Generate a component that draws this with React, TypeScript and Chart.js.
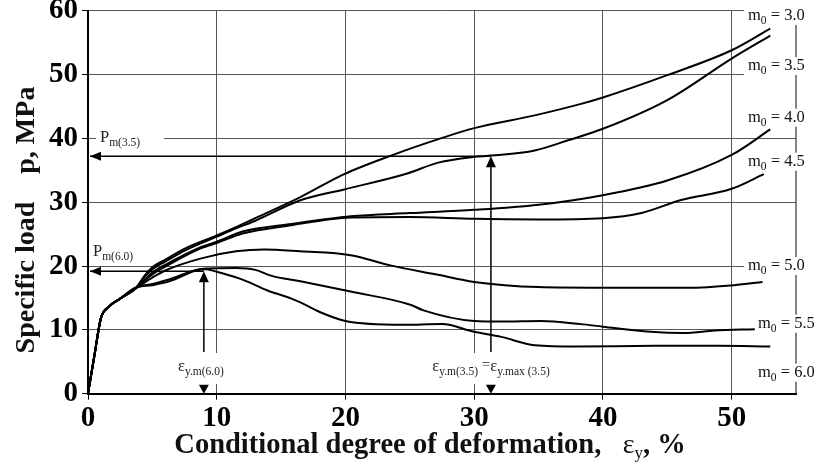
import React, { useEffect, useRef } from "react";
import { Chart, registerables } from "chart.js";
Chart.register(...registerables);

const SERIF = '"Liberation Serif", "DejaVu Serif", serif';

// Axis ranges / ticks
const X_MIN = 0;
const X_MAX = 55;
const X_STEP = 10;
const Y_MIN = 0;
const Y_MAX = 60;
const Y_STEP = 10;

// Series (conditional degree of deformation, %  ->  specific load, MPa)
const M30_X = [0, 0.5, 1, 1.6, 2.5, 3.7, 4.4, 5, 6, 7.6, 10, 11.5, 13, 16.5, 19.9, 23.8, 27.4, 30, 34.7, 38.3, 40, 45, 50, 53];
const M30_Y = [0, 6, 11.8, 13.6, 14.9, 16.5, 18.5, 19.8, 21, 22.8, 24.8, 26.1, 27.5, 30.8, 34.4, 37.5, 40, 41.6, 43.6, 45.4, 46.4, 49.9, 53.8, 57.2];

const M35_X = [0, 0.5, 1, 1.6, 2.5, 3.7, 4.4, 5, 6, 7.6, 10, 11.5, 13, 16.5, 19.9, 24.8, 27.2, 30, 31.3, 34.7, 37.3, 40, 45, 50, 53];
const M35_Y = [0, 6, 11.8, 13.6, 14.9, 16.5, 18.3, 19.5, 20.7, 22.5, 24.6, 25.9, 27.1, 30.3, 32, 34.5, 36.2, 37.1, 37.3, 38.1, 39.7, 41.5, 46, 52.5, 56.1];

const M40_X = [0, 0.5, 1, 1.6, 2.5, 3.7, 5, 6, 8.8, 10, 12, 15.8, 20.4, 25, 30, 35, 40, 45, 50, 53];
const M40_Y = [0, 6, 11.8, 13.6, 14.9, 16.5, 19, 20.2, 23, 23.8, 25.4, 26.6, 27.8, 28.3, 28.8, 29.6, 31.1, 33.4, 37.4, 41.4];

const M45_X = [0, 0.5, 1, 1.6, 2.5, 3.7, 5, 6, 8.8, 10, 12, 15.8, 20.4, 25, 30, 35, 40, 43, 46, 50, 52.5];
const M45_Y = [0, 6, 11.8, 13.6, 14.9, 16.5, 18.7, 19.9, 22.8, 23.6, 25.1, 26.4, 27.6, 27.7, 27.4, 27.3, 27.5, 28.3, 30.3, 32.1, 34.4];

const M50_X = [0, 0.5, 1, 1.6, 2.5, 3.7, 5, 6, 8.8, 11.5, 13.7, 16.5, 20.4, 23.5, 27, 30, 35, 40, 46.6, 50.2, 52.4];
const M50_Y = [0, 6, 11.8, 13.6, 14.9, 16.5, 18.2, 19.3, 21.2, 22.3, 22.6, 22.3, 21.7, 20.1, 18.7, 17.5, 16.7, 16.6, 16.6, 17, 17.5];

const M55_X = [0, 0.5, 1, 1.6, 2.5, 3.7, 5, 6.3, 8.4, 9.2, 11.5, 13, 14.2, 16.5, 20.4, 25.1, 26, 30, 32.1, 35.2, 38.3, 40, 43.7, 46.3, 48.7, 51.8];
const M55_Y = [0, 6, 11.8, 13.6, 14.9, 16.6, 17.2, 17.9, 19.4, 19.6, 19.7, 19.4, 18.5, 17.6, 16, 13.9, 13.1, 11.4, 11.3, 11.4, 10.9, 10.5, 9.7, 9.5, 9.9, 10.1];

const M60_X = [0, 0.5, 1, 1.6, 2.5, 3.7, 5, 6.3, 8.4, 9.2, 10, 12.1, 13.9, 15.8, 16.5, 18, 20, 24.4, 27.5, 30, 32.1, 34.7, 38, 44, 49, 53];
const M60_Y = [0, 6, 11.8, 13.6, 14.9, 16.6, 17, 17.6, 19.3, 19.5, 19.1, 17.8, 16.2, 14.9, 14.3, 12.8, 11.4, 10.8, 10.9, 9.7, 8.9, 7.6, 7.4, 7.5, 7.5, 7.4];

const SERIES_X = [M30_X, M35_X, M40_X, M45_X, M50_X, M55_X, M60_X];
const SERIES_Y = [M30_Y, M35_Y, M40_Y, M45_Y, M50_Y, M55_Y, M60_Y];
const SERIES_LABELS = ["3.0", "3.5", "4.0", "4.5", "5.0", "5.5", "6.0"];

// Annotation values
const PM_35 = 37.2; // P m(3.5)
const EPS_35 = 31.3; // eps y.m(3.5)
const PM_60 = 19.2; // P m(6.0)
const EPS_60 = 9.0; // eps y.m(6.0)

type Part = { t: string; s: number; w?: string; dy?: number; f?: string };

function drawParts(ctx: CanvasRenderingContext2D, parts: Part[], x: number, y: number, align: "left" | "center" | "right") {
  let total = 0;
  const widths = parts.map((p) => {
    ctx.font = `${p.w || "normal"} ${p.s}px ${p.f || SERIF}`;
    const w = ctx.measureText(p.t).width;
    total += w;
    return w;
  });
  let cx = align === "left" ? x : align === "center" ? x - total / 2 : x - total;
  const start = cx;
  ctx.textAlign = "left";
  ctx.textBaseline = "alphabetic";
  parts.forEach((p, i) => {
    ctx.font = `${p.w || "normal"} ${p.s}px ${p.f || SERIF}`;
    ctx.fillText(p.t, cx, y + (p.dy || 0));
    cx += widths[i];
  });
  return { left: start, width: total };
}

function fillTri(ctx: CanvasRenderingContext2D, pts: number[][]) {
  ctx.beginPath();
  ctx.moveTo(pts[0][0], pts[0][1]);
  ctx.lineTo(pts[1][0], pts[1][1]);
  ctx.lineTo(pts[2][0], pts[2][1]);
  ctx.closePath();
  ctx.fill();
}

const LABEL_X = [748, 748, 748, 748, 748, 758, 758];
const LABEL_BASE = [20, 70, 121.7, 165.7, 270, 327.7, 376.7];

const overlay = {
  id: "overlay",
  beforeDatasetsDraw(chart: any) {
    const ctx: CanvasRenderingContext2D = chart.ctx;
    const xs = chart.scales.x;
    const area = chart.chartArea;
    ctx.save();
    // right border
    ctx.strokeStyle = "#333";
    ctx.lineWidth = 1.2;
    ctx.beginPath();
    ctx.moveTo(xs.getPixelForValue(X_MAX), area.top);
    ctx.lineTo(xs.getPixelForValue(X_MAX), area.bottom);
    ctx.stroke();
    // white boxes behind curve labels
    ctx.fillStyle = "#fff";
    for (let i = 0; i < LABEL_X.length; i++) {
      ctx.fillRect(LABEL_X[i] - 4, LABEL_BASE[i] - 13, 819 - LABEL_X[i] + 4, 18);
    }
    // P m(3.5) label box on 40 grid line
    ctx.fillRect(96, 128, 68, 22);
    // eps label boxes
    ctx.fillRect(170, 353, 58, 31);
    ctx.fillRect(427, 353, 132, 31);
    ctx.restore();
  },
  afterDraw(chart: any) {
    const ctx: CanvasRenderingContext2D = chart.ctx;
    const xs = chart.scales.x;
    const ys = chart.scales.y;
    const area = chart.chartArea;
    ctx.save();
    ctx.fillStyle = "#111";

    // curve labels m0 = ...
    SERIES_LABELS.forEach((lab, i) => {
      drawParts(ctx, [
        { t: "m", s: 16.5 },
        { t: "0", s: 11.5, dy: 4 },
        { t: " = " + lab, s: 16.5 },
      ], LABEL_X[i], LABEL_BASE[i], "left");
    });

    // Arrows
    ctx.strokeStyle = "#000";
    ctx.fillStyle = "#000";
    ctx.lineWidth = 1.5;
    const x0 = area.left;
    const bottom = area.bottom;
    const arrows = [
      { p: PM_35, e: EPS_35 },
      { p: PM_60, e: EPS_60 },
    ];
    arrows.forEach(({ p, e }) => {
      const py = ys.getPixelForValue(p);
      const ex = xs.getPixelForValue(e);
      ctx.beginPath();
      ctx.moveTo(x0 + 2, py);
      ctx.lineTo(ex, py);
      ctx.stroke();
      fillTri(ctx, [[x0 + 2, py], [x0 + 13, py - 4.5], [x0 + 13, py + 4.5]]);
      ctx.beginPath();
      ctx.moveTo(ex, py + 6);
      ctx.lineTo(ex, 352);
      ctx.stroke();
      fillTri(ctx, [[ex, py], [ex - 5, py + 11], [ex + 5, py + 11]]);
      fillTri(ctx, [[ex, bottom], [ex - 5, bottom - 9], [ex + 5, bottom - 9]]);
    });

    ctx.fillStyle = "#222";
    // P labels
    drawParts(ctx, [
      { t: "P", s: 16.5 },
      { t: "m(3.5)", s: 11.5, dy: 4 },
    ], 100, 142, "left");
    drawParts(ctx, [
      { t: "P", s: 16.5 },
      { t: "m(6.0)", s: 11.5, dy: 4 },
    ], 93, 256, "left");
    // eps labels
    drawParts(ctx, [
      { t: "ε", s: 16.5 },
      { t: "y.m(6.0)", s: 11.5, dy: 4 },
    ], xs.getPixelForValue(EPS_60) - 3, 371, "center");
    drawParts(ctx, [
      { t: "ε", s: 16.5 },
      { t: "y.m(3.5)", s: 11.5, dy: 4 },
      { t: " =", s: 15, dy: -2 },
      { t: "ε", s: 16.5 },
      { t: "y.max (3.5)", s: 11.5, dy: 4 },
    ], 491, 371, "center");

    // Axis titles
    ctx.fillStyle = "#111";
    drawParts(ctx, [
      { t: "Conditional degree of deformation,   ", s: 28.5, w: "bold" },
      { t: "ε", s: 28 },
      { t: "y", s: 17, dy: 5 },
      { t: ", %", s: 28.5, w: "bold" },
    ], 430, 453, "center");

    ctx.save();
    ctx.translate(34, 220);
    ctx.rotate(-Math.PI / 2);
    drawParts(ctx, [
      { t: "Specific load    p, MPa", s: 28, w: "bold" },
    ], 0, 0, "center");
    ctx.restore();

    ctx.restore();
  },
};

export default function App() {
  const ref = useRef<HTMLCanvasElement | null>(null);
  useEffect(() => {
    document.body.style.margin = "0";
    document.body.style.overflow = "hidden";
    const canvas = ref.current!;
    const datasets = SERIES_X.map((xsArr, i) => ({
      label: "m0 = " + SERIES_LABELS[i],
      data: xsArr.map((x, j) => ({ x, y: SERIES_Y[i][j] })),
      borderColor: "#000",
      borderWidth: 2,
      pointRadius: 0,
      fill: false,
      cubicInterpolationMode: "monotone" as const,
    }));
    const chart = new Chart(canvas, {
      type: "line",
      data: { datasets },
      options: {
        responsive: false,
        animation: false,
        layout: { padding: { left: 0, right: 23, top: 10.7, bottom: 0 } },
        plugins: { legend: { display: false }, tooltip: { enabled: false } },
        scales: {
          x: {
            type: "linear",
            min: X_MIN,
            max: X_MAX,
            afterFit(scale: any) {
              scale.height = 463 - 393.7;
              scale.paddingLeft = 0;
              scale.paddingRight = 0;
            },
            ticks: {
              stepSize: X_STEP,
              includeBounds: false,
              color: "#000",
              padding: 1,
              font: { family: SERIF, size: 29, weight: "bold" },
              maxRotation: 0,
            },
            grid: { color: "#555", lineWidth: 1, tickLength: 6, tickColor: "#000", drawTicks: true },
            border: { display: true, color: "#000", width: 2 },
          },
          y: {
            type: "linear",
            min: Y_MIN,
            max: Y_MAX,
            afterFit(scale: any) {
              scale.width = 88;
              scale.paddingTop = 0;
              scale.paddingBottom = 0;
            },
            ticks: {
              stepSize: Y_STEP,
              color: "#000",
              padding: 4,
              font: { family: SERIF, size: 29, weight: "bold" },
            },
            grid: { color: "#555", lineWidth: 1, tickLength: 6, tickColor: "#000", drawTicks: true },
            border: { display: true, color: "#000", width: 2 },
          },
        },
      },
      plugins: [overlay],
    });
    return () => chart.destroy();
  }, []);
  return <canvas ref={ref} width={819} height={463} style={{ display: "block" }} />;
}
